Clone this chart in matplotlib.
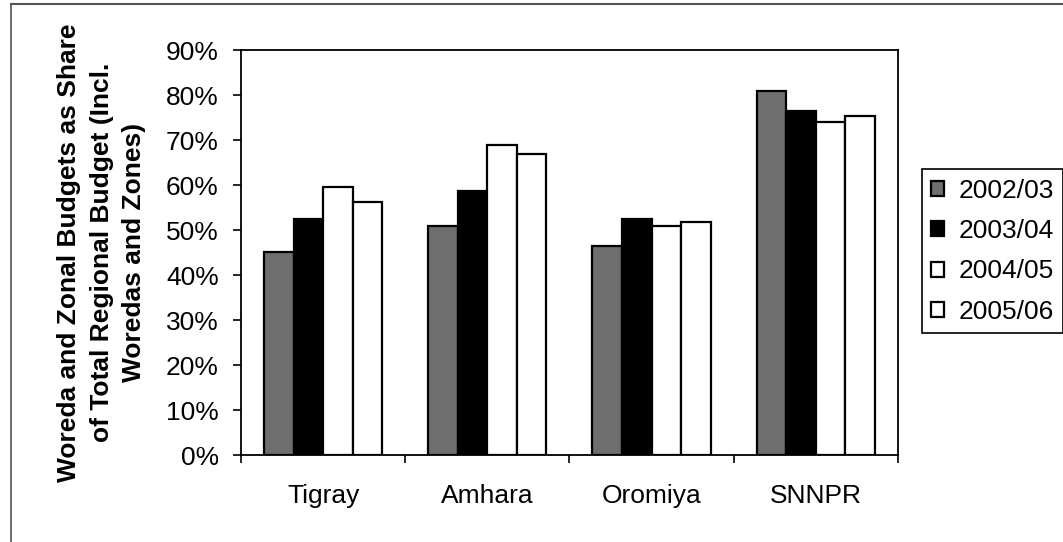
import numpy as np
import matplotlib.pyplot as plt
from matplotlib.lines import Line2D
from matplotlib.ticker import FuncFormatter

plt.rcParams['font.family'] = ['Liberation Sans', 'DejaVu Sans']

regions = ["Tigray", "Amhara", "Oromiya", "SNNPR"]
years = ["2002/03", "2003/04", "2004/05", "2005/06"]
share_0203 = [45.2, 51.0, 46.4, 80.9]
share_0304 = [52.4, 58.7, 52.4, 76.5]
share_0405 = [59.6, 68.9, 50.9, 74.1]
share_0506 = [56.2, 66.9, 51.7, 75.3]

series = [share_0203, share_0304, share_0405, share_0506]
colors = ['#6e6e6e', '#000000', '#ffffff', '#ffffff']

fig = plt.figure(figsize=(10.63, 5.42), dpi=100)
ax = fig.add_axes([0.2267, 0.1605, 0.618, 0.7472])

x = np.arange(len(regions)) + 0.5
width = 0.18
for j, (vals, c) in enumerate(zip(series, colors)):
    ax.bar(x + (j - 1.5) * width, vals, width, color=c, edgecolor='black',
           linewidth=1.6, label=years[j])

ax.set_xlim(0, len(regions))
ax.set_ylim(0, 90)
ax.set_yticks(np.arange(0, 91, 10))
ax.yaxis.set_major_formatter(FuncFormatter(lambda v, p: f"{v:.0f}%"))
ax.set_xticks(np.arange(len(regions) + 1))
ax.set_xticklabels([])
ax.set_xticks(x, minor=True)
ax.set_xticklabels(regions, minor=True)
ax.tick_params(axis='x', which='minor', length=0, pad=21, labelsize=19)
ax.tick_params(axis='x', which='major', length=6, width=1.2, direction='out')
ax.tick_params(axis='y', length=6, width=1.2, pad=10, labelsize=19)
for s in ax.spines.values():
    s.set_linewidth(1.3)
    s.set_color('black')

ax.set_ylabel("Woreda and Zonal Budgets as Share\nof Total Regional Budget (Incl.\nWoredas and Zones)",
              fontsize=19, fontweight='bold', linespacing=1.45, labelpad=14)

leg = ax.legend(loc='upper left', bbox_to_anchor=(1.036, 0.705), fontsize=19,
                frameon=True, fancybox=False, edgecolor='black', framealpha=1,
                handlelength=0.5, handleheight=0.5, handletextpad=0.55,
                labelspacing=0.62, borderpad=0.35, borderaxespad=0)
leg.get_frame().set_linewidth(1.2)

# outer chart frame
fig.add_artist(Line2D([0.010, 1.0], [0.993, 0.993], transform=fig.transFigure,
                      color='#555555', linewidth=1.5))
fig.add_artist(Line2D([0.010, 0.010], [0.0, 0.993], transform=fig.transFigure,
                      color='#555555', linewidth=1.2))

fig.savefig("out.png", dpi=100)
